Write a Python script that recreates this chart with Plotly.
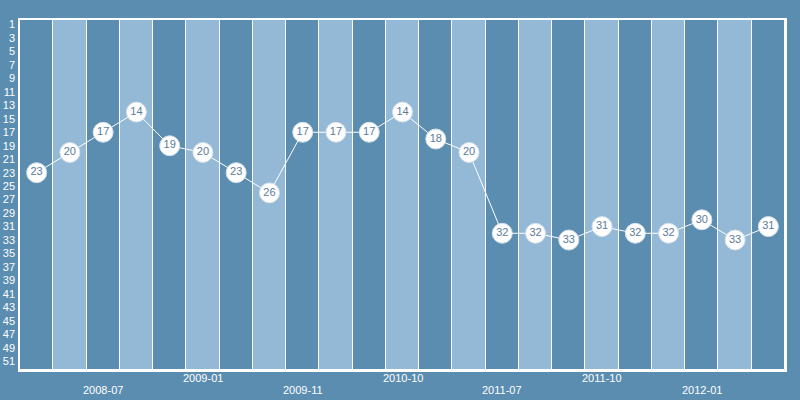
import plotly.graph_objects as go

ranks = [23, 20, 17, 14, 19, 20, 23, 26, 17, 17, 17, 14, 18, 20,
         32, 32, 33, 31, 32, 32, 30, 33, 31]
tick_positions = [2, 5, 8, 11, 14, 17, 20]
tick_labels = ["2008-07", "2009-01", "2009-11", "2010-10", "2011-07", "2011-10", "2012-01"]
y_ticks = list(range(1, 52, 2))

DARK = "#5b8db0"
LIGHT = "#93b9d7"
Y_TOP, Y_BOTTOM = 0.33, 52.3
FONT = "Liberation Sans"

idx = list(range(len(ranks)))
col_colors = [DARK if i % 2 == 0 else LIGHT for i in idx]

fig = go.Figure()
fig.add_trace(go.Bar(
    x=idx, y=[Y_BOTTOM - Y_TOP] * len(idx), base=Y_TOP,
    marker=dict(color=col_colors, line=dict(color="white", width=1)),
    hoverinfo="skip", showlegend=False,
))
fig.add_trace(go.Scatter(
    x=idx, y=ranks, mode="lines+markers+text",
    line=dict(color="white", width=1),
    marker=dict(size=20, color="white", line=dict(color="#d5e0ea", width=1)),
    text=[str(v) for v in ranks], textposition="middle center",
    textfont=dict(family=FONT, size=11, color="#5b7b9a"),
    showlegend=False,
))

for i, (pos, lab) in enumerate(zip(tick_positions, tick_labels)):
    fig.add_annotation(
        x=pos, xref="x", y=0, yref="paper", text=lab, showarrow=False,
        yanchor="middle", yshift=-8 if i % 2 == 1 else -20,
        font=dict(family=FONT, size=11, color="white"),
    )

fig.update_layout(
    width=800, height=400,
    margin=dict(l=20, r=15, t=20, b=30),
    paper_bgcolor=DARK, plot_bgcolor=DARK,
    bargap=0,
    font=dict(family=FONT, size=11, color="white"),
    xaxis=dict(range=[-0.5, len(idx) - 0.5], showticklabels=False,
               showgrid=False, zeroline=False, showline=True, linecolor="white", linewidth=1.5,
               mirror=True, ticks="", automargin=False),
    yaxis=dict(range=[Y_BOTTOM, Y_TOP], tickvals=y_ticks, showgrid=False, zeroline=False,
               showline=True, linecolor="white", linewidth=1.5, mirror=True, ticks="",
               automargin=False, ticklabelstandoff=1,
               tickfont=dict(family=FONT, color="white", size=11)),
)
fig.write_html("out.html", config={"displayModeBar": False},
               post_script="document.body.style.margin='0';document.body.style.background='%s';" % DARK)
